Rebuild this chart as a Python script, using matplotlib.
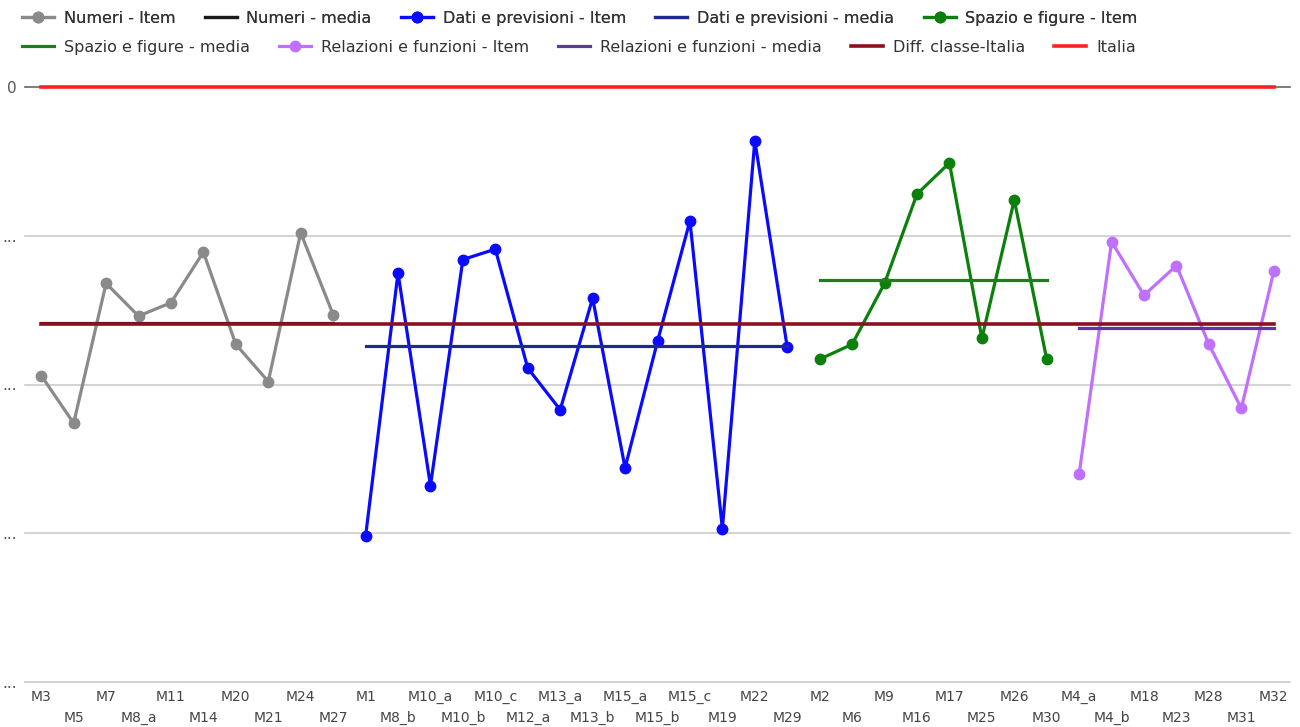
import numpy as np
import matplotlib.pyplot as plt
from matplotlib.lines import Line2D

# values (gridline step = 10, labels hidden as "...")
numeri_items = ['M3', 'M5', 'M7', 'M8_a', 'M11', 'M14', 'M20', 'M21', 'M24', 'M27']
numeri_vals = [-19.4, -22.6, -13.2, -15.4, -14.5, -11.1, -17.3, -19.8, -9.8, -15.3]
numeri_media = -15.85

dati_items = ['M1', 'M8_b', 'M10_a', 'M10_b', 'M10_c', 'M12_a', 'M13_a', 'M13_b',
              'M15_a', 'M15_b', 'M15_c', 'M19', 'M22', 'M29']
dati_vals = [-30.2, -12.5, -26.8, -11.6, -10.9, -18.9, -21.7, -14.2,
             -25.6, -17.1, -9.0, -29.7, -3.6, -17.5]
dati_media = -17.4

spazio_items = ['M2', 'M6', 'M9', 'M16', 'M17', 'M25', 'M26', 'M30']
spazio_vals = [-18.3, -17.3, -13.2, -7.2, -5.1, -16.9, -7.6, -18.3]
spazio_media = -13.0

relazioni_items = ['M4_a', 'M4_b', 'M18', 'M23', 'M28', 'M31', 'M32']
relazioni_vals = [-26.0, -10.4, -14.0, -12.0, -17.3, -21.6, -12.4]
relazioni_media = -16.2

diff_classe = -15.95
italia = 0.0

y_ticks = [0, -10, -20, -30, -40]
y_ticklabels = ['0', '...', '...', '...', '...']

groups = [
    ('Numeri', numeri_items, numeri_vals, numeri_media, '#8a8a8a', '#1a1a1a'),
    ('Dati e previsioni', dati_items, dati_vals, dati_media, '#0a0aff', '#1f2a8a'),
    ('Spazio e figure', spazio_items, spazio_vals, spazio_media, '#0b800b', '#237a23'),
    ('Relazioni e funzioni', relazioni_items, relazioni_vals, relazioni_media, '#c070ff', '#5b3a9e'),
]

fig = plt.figure(figsize=(13, 7.27), dpi=100)
ax = fig.add_axes([25 / 1300, 1 - 682 / 727, 1265 / 1300, 595 / 727])

all_items = []
item_handles = []
media_handles = []
start = 0
for name, items, vals, media, col, mcol in groups:
    x = np.arange(start, start + len(items))
    ax.plot(x, vals, color=col, lw=2.3, marker='o', ms=7.5, zorder=4)
    ax.plot([x[0], x[-1]], [media, media], color=mcol, lw=2.3, zorder=5)
    item_handles.append(Line2D([], [], color=col, lw=2.3, marker='o', ms=7.5))
    media_handles.append(Line2D([], [], color=mcol, lw=2.3))
    all_items += items
    start += len(items)

n = len(all_items)
ax.plot([0, n - 1], [diff_classe, diff_classe], color='#8b1020', lw=2.6, zorder=6)
ax.plot([0, n - 1], [italia, italia], color='#ff2020', lw=2.6, zorder=6, clip_on=False)

ax.set_xlim(-0.5, n - 0.5)
ax.set_ylim(-40, 0)

ax.set_yticks(y_ticks)
ax.set_yticklabels(y_ticklabels, fontsize=11, color='#555555')
ax.tick_params(axis='y', length=0, pad=6)
for t in y_ticks[1:]:
    ax.axhline(t, color='#cccccc', lw=1.2, zorder=1, clip_on=False)
ax.axhline(0, color='#666666', lw=1.2, zorder=2, clip_on=False)

xs = np.arange(n)
ax.set_xticks(xs[::2])
ax.set_xticklabels(all_items[::2], fontsize=10, color='#444444')
ax.set_xticks(xs[1::2], minor=True)
ax.set_xticklabels(all_items[1::2], minor=True, fontsize=10, color='#444444')
ax.tick_params(axis='x', which='major', length=0, pad=6)
ax.tick_params(axis='x', which='minor', length=0, pad=21)

for s in ax.spines.values():
    s.set_visible(False)

labels = []
handles = []
for (name, *_), ih, mh in zip(groups, item_handles, media_handles):
    handles += [ih, mh]
    labels += [name + ' - Item', name + ' - media']
handles += [Line2D([], [], color='#8b1020', lw=2.6), Line2D([], [], color='#ff2020', lw=2.6)]
labels += ['Diff. classe-Italia', 'Italia']

leg_kw = dict(loc='upper left', frameon=False, borderpad=0, borderaxespad=0,
              handlelength=2.0, handletextpad=0.6, columnspacing=1.85,
              fontsize=11.5, labelcolor='#333333')
leg1 = fig.legend(handles[:5], labels[:5], ncol=5,
                  bbox_to_anchor=(22 / 1300, 1 - 11 / 727), **leg_kw)
fig.add_artist(leg1)
fig.legend(handles[5:], labels[5:], ncol=5,
           bbox_to_anchor=(22 / 1300, 1 - 40 / 727), **leg_kw)

fig.savefig('out.png', dpi=100)
